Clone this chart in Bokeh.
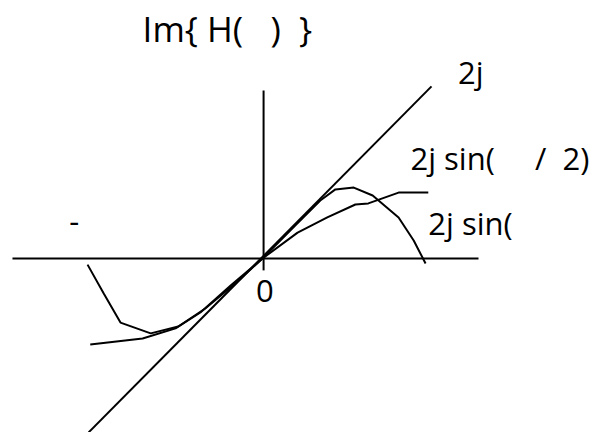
from bokeh.plotting import figure
from bokeh.models import Range1d, ColumnDataSource
from bokeh.core.properties import value
from bokeh.embed import file_html
from bokeh.resources import INLINE

# --- sketch data (omega on x, Im{H} on y) ---
# horizontal and vertical axes of the sketch
h_axis_x = [-4.63, 4.00]
h_axis_y = [0.0, 0.0]
v_axis_x = [0.02, 0.02]
v_axis_y = [4.67, -0.33]

# 2j*omega  (straight line)
line_w = [-3.22, 3.13]
line_v = [-4.83, 4.78]

# 2j*sin(omega)
sin_w = [-3.24, -2.94, -2.63, -2.07, -1.56, -1.06, -0.50, 0.0,
         0.61, 1.07, 1.35, 1.69, 2.04, 2.52, 2.80, 3.02]
sin_v = [-0.17, -0.97, -1.78, -2.08, -1.89, -1.39, -0.69, 0.0,
         0.92, 1.61, 1.92, 1.97, 1.75, 1.14, 0.50, -0.14]

# 2j*sin(omega/2)
half_w = [-3.19, -2.22, -1.61, -1.15, -0.59, 0.0,
          0.65, 1.20, 1.72, 1.96, 2.52, 3.07]
half_v = [-2.39, -2.22, -1.94, -1.50, -0.75, 0.0,
          0.72, 1.14, 1.50, 1.53, 1.83, 1.83]

# non-breaking space keeps the gaps in SVG text
S = "\u00a0"

# annotation texts and their anchor points (left, baseline)
label_text = ["2j", "2j" + S + "sin(" + S * 5 + "/" + S * 2 + "2)",
              "2j" + S + "sin(", "-", "0"]
label_x = [3.62, 2.74, 3.07, -3.58, -0.12]
label_y = [5.17, 2.80, 1.00, 1.03, -0.89]
title_text = ["Im{" + S + "H(" + S * 3 + ")" + S * 2 + "}"]
title_x = [-2.22]
title_y = [6.38]

FONT = "Open Sans"

p = figure(width=591, height=432, output_backend="svg", toolbar_location=None,
           x_range=Range1d(-262 / 54, (591 - 262) / 54),
           y_range=Range1d(-(432 - 258) / 36, 258 / 36),
           min_border=0, outline_line_color=None)
p.axis.visible = False
p.grid.visible = False
p.background_fill_color = "white"
p.border_fill_color = "white"

p.line(h_axis_x, h_axis_y, line_color="black", line_width=2)
p.line(v_axis_x, v_axis_y, line_color="black", line_width=2)
p.line(line_w, line_v, line_color="black", line_width=2)
p.line(sin_w, sin_v, line_color="black", line_width=2)
p.line(half_w, half_v, line_color="black", line_width=2)

labels = ColumnDataSource(dict(x=label_x, y=label_y, t=label_text))
p.text(x="x", y="y", text="t", source=labels, text_font=value(FONT),
       text_font_size="31px", text_color="black",
       text_align="left", text_baseline="alphabetic")

title = ColumnDataSource(dict(x=title_x, y=title_y, t=title_text))
p.text(x="x", y="y", text="t", source=title, text_font=value(FONT),
       text_font_size="35px", text_color="black",
       text_align="left", text_baseline="alphabetic")

open("out.html", "w").write(file_html(p, INLINE))
